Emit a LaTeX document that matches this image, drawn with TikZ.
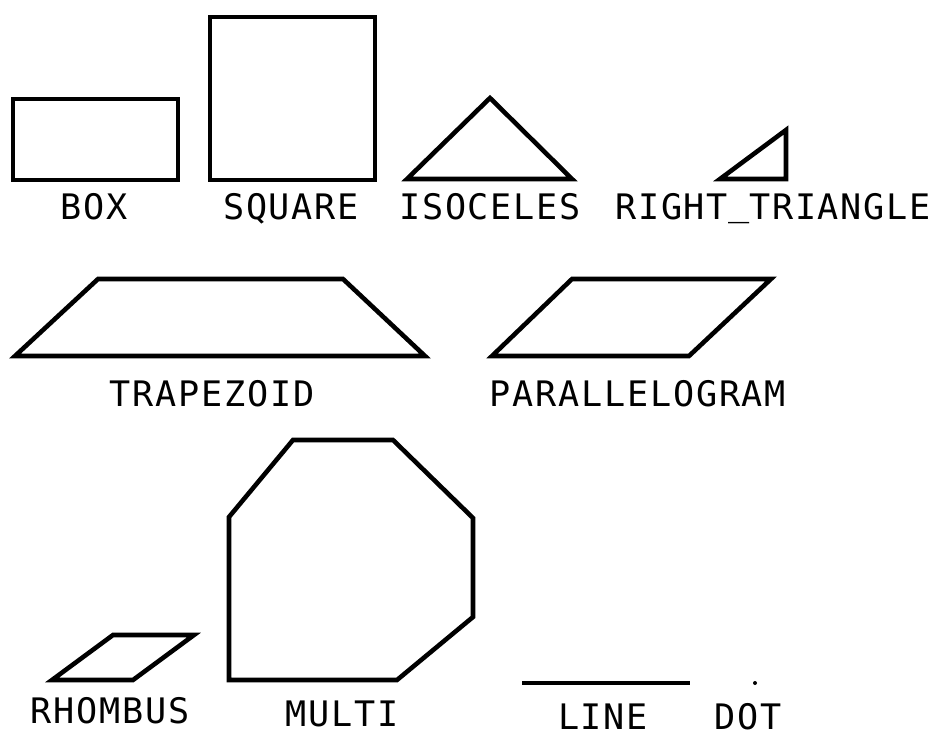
\documentclass[tikz,border=0pt]{standalone}
\usepackage{fontspec}
\newfontfamily\plotfont[LetterSpace=5]{DejaVu Sans Mono}
\begin{document}
\begin{tikzpicture}[x=0.02cm,y=-0.02cm,line width=2.6pt,line join=miter,
  shapelbl/.style={font=\plotfont\fontsize{20}{20}\selectfont,inner sep=0pt,anchor=base}]
\useasboundingbox (0,0) rectangle (936,736);
% top row
\draw (13,99) rectangle (178,180);
\draw (210,17) rectangle (375,180);
\draw (407,179)--(490,98)--(572,179)--cycle;
\draw (720,179)--(786,179)--(786,130)--cycle;
\node[shapelbl] (box) at (94,220) {BOX};
\node[shapelbl] (square) at (291,220) {SQUARE};
\node[shapelbl] (isoceles) at (490,220) {ISOCELES};
\node[shapelbl] (righttri) at (773,220) {RIGHT\raisebox{0.14em}{\_}TRIANGLE};
% middle row
\draw (15,356)--(425,356)--(343,279)--(98,279)--cycle;
\draw (492,356)--(689,356)--(771,279)--(572,279)--cycle;
\node[shapelbl] (trapezoid) at (212,406) {TRAPEZOID};
\node[shapelbl] (parallelogram) at (638,406) {PARALLELOGRAM};
% bottom row
\draw (52,680)--(133,680)--(194,635)--(113,635)--cycle;
\draw (229,680)--(229,517)--(293,440)--(393,440)--(473,518)--(473,617)--(397,680)--cycle;
\draw[line width=2pt] (522,683)--(690,683);
\fill (755,683) circle (2);
\node[shapelbl] (rhombus) at (110,723) {RHOMBUS};
\node[shapelbl] (multi) at (342,726) {MULTI};
\node[shapelbl] (line) at (603,729) {LINE};
\node[shapelbl] (dot) at (748,729) {DOT};
\end{tikzpicture}
\end{document}
